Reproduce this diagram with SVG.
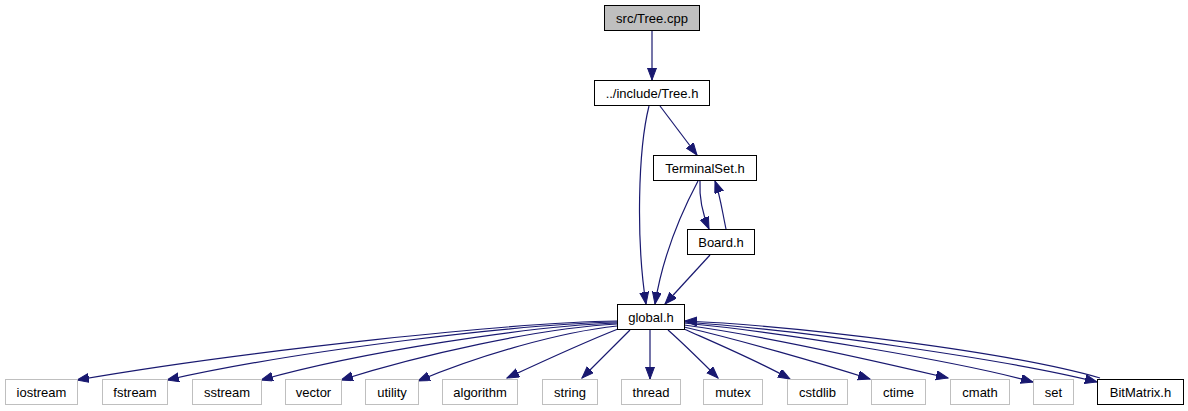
<svg xmlns="http://www.w3.org/2000/svg" width="1188" height="411" viewBox="0 0 1188 411">
<style>
.n rect{fill:#fff;stroke:#000;stroke-width:1}
.n.root rect{fill:#bfbfbf}
.n.ext rect{stroke:#bfbfbf}
.n text{font-family:"Liberation Sans",Arial,sans-serif;font-size:13px;text-anchor:middle;fill:#000}
.e path{fill:none;stroke:#191970;stroke-width:1.2;marker-end:url(#ah)}
</style>
<defs>
<marker id="ah" markerUnits="userSpaceOnUse" markerWidth="13" markerHeight="10" refX="12" refY="4.5" orient="auto">
<path d="M0,0 L12,4.5 L0,9 z" fill="#191970" stroke="#191970" stroke-width="1"/>
</marker>
</defs>
<rect width="1188" height="411" fill="#fff"/>
<g id="connectors" class="e">
<path d="M652,31 L652,80"/>
<path d="M660,106 L697,155"/>
<path d="M649,106 C638,150 636,240 646,304"/>
<path d="M698,181 C680,215 662,260 655,304"/>
<path d="M700,181 C699,200 703,215 709,229"/>
<path d="M726,229 C722,210 720,195 715,181"/>
<path d="M710,255 L665,304"/>
<path d="M617,321 C520,322 250,350 77,380"/>
<path d="M617,322 C520,324 300,350 167,380"/>
<path d="M617,323 C530,326 360,352 261,380"/>
<path d="M617,324 C540,328 420,355 341,380"/>
<path d="M617,326 C560,332 480,355 418,381"/>
<path d="M618,329 C590,340 550,358 507,378"/>
<path d="M630,330 C615,345 598,362 582,378"/>
<path d="M650,330 L650,379"/>
<path d="M668,330 C685,345 702,362 718,378"/>
<path d="M684,329 C720,345 760,362 790,379"/>
<path d="M684,327 C740,340 820,363 870,379"/>
<path d="M684,325 C760,335 880,362 948,378"/>
<path d="M684,323 C790,333 960,362 1033,382"/>
<path d="M684,322 C800,330 1010,360 1097,382"/>
<path d="M1100,378 C1010,352 800,326 685,321"/>
</g>
<g id="node-tree-cpp" class="n root"><rect x="604.5" y="5.5" width="95" height="25"/><text x="652" y="22.5">src/Tree.cpp</text></g>
<g id="node-tree-h" class="n"><rect x="594.5" y="80.5" width="115" height="25"/><text x="652" y="97.5">../include/Tree.h</text></g>
<g id="node-terminalset" class="n"><rect x="653.5" y="155.5" width="103" height="25"/><text x="705" y="172.5">TerminalSet.h</text></g>
<g id="node-board" class="n"><rect x="687.5" y="229.5" width="67" height="25"/><text x="721" y="246.5">Board.h</text></g>
<g id="node-global" class="n"><rect x="617.5" y="304.5" width="67" height="25"/><text x="651" y="321.5">global.h</text></g>
<g id="node-iostream" class="n ext"><rect x="5.5" y="379.5" width="72" height="25"/><text x="41.5" y="396.5">iostream</text></g>
<g id="node-fstream" class="n ext"><rect x="102.5" y="379.5" width="65" height="25"/><text x="135" y="396.5">fstream</text></g>
<g id="node-sstream" class="n ext"><rect x="192.5" y="379.5" width="69" height="25"/><text x="227" y="396.5">sstream</text></g>
<g id="node-vector" class="n ext"><rect x="285.5" y="379.5" width="56" height="25"/><text x="313.5" y="396.5">vector</text></g>
<g id="node-utility" class="n ext"><rect x="365.5" y="379.5" width="53" height="25"/><text x="392" y="396.5">utility</text></g>
<g id="node-algorithm" class="n ext"><rect x="442.5" y="379.5" width="75" height="25"/><text x="480" y="396.5">algorithm</text></g>
<g id="node-string" class="n ext"><rect x="542.5" y="379.5" width="55" height="25"/><text x="570" y="396.5">string</text></g>
<g id="node-thread" class="n ext"><rect x="621.5" y="379.5" width="59" height="25"/><text x="651" y="396.5">thread</text></g>
<g id="node-mutex" class="n ext"><rect x="703.5" y="379.5" width="59" height="25"/><text x="733" y="396.5">mutex</text></g>
<g id="node-cstdlib" class="n ext"><rect x="787.5" y="379.5" width="60" height="25"/><text x="817.5" y="396.5">cstdlib</text></g>
<g id="node-ctime" class="n ext"><rect x="871.5" y="379.5" width="54" height="25"/><text x="898.5" y="396.5">ctime</text></g>
<g id="node-cmath" class="n ext"><rect x="950.5" y="379.5" width="59" height="25"/><text x="980" y="396.5">cmath</text></g>
<g id="node-set" class="n ext"><rect x="1033.5" y="379.5" width="40" height="25"/><text x="1053.5" y="396.5">set</text></g>
<g id="node-bitmatrix" class="n"><rect x="1097.5" y="379.5" width="86" height="25"/><text x="1140.5" y="396.5">BitMatrix.h</text></g>
</svg>
